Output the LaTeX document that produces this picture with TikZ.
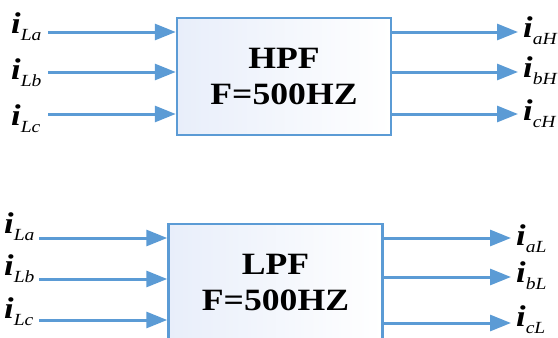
\documentclass[tikz,border=0pt]{standalone}
\usepackage{fontspec}
\setmainfont[FakeStretch=1.15]{Liberation Serif}
\usetikzlibrary{arrows.meta}
\definecolor{lineblue}{RGB}{91,155,213}
\definecolor{fillblue}{RGB}{232,238,250}
\tikzset{
  filter/.style={
    rectangle,
    draw=lineblue,
    line width=2.5pt,
    left color=fillblue, right color=white,
    minimum width=214pt, minimum height=117pt,
    inner sep=0pt,
    align=center,
    font=\fontsize{31}{36}\selectfont\bfseries
  },
  lbl/.style={
    inner sep=0pt,
    anchor=base west,
    font=\fontsize{30}{30}\selectfont
  }
}
\tikzstyle{arrow} = [-{Triangle[length=21pt, width=16pt]}, draw=lineblue, line width=3pt]
\def\cur#1{\textbf{\textit{i}}\raisebox{-7pt}{\fontsize{17}{17}\selectfont\textit{#1}}}

\begin{document}
\begin{tikzpicture}[x=1pt, y=-1pt]
    \clip (0,0) rectangle (558,338);
    \node[filter] (hpf) at (284, 76.5) {HPF\\F=500HZ};
    \node[filter] (lpf) at (275.5, 282.5) {LPF\\F=500HZ};
    % high pass: in and out
    \coordinate (hai) at (48, 32);
    \coordinate (hbi) at (48, 72);
    \coordinate (hci) at (48, 114);
    \coordinate (hao) at (518, 32);
    \coordinate (hbo) at (518, 72);
    \coordinate (hco) at (518, 114);
    \node[lbl] (hLa) at (11, 33) {\cur{La}};
    \node[lbl] (hLb) at (11, 79) {\cur{Lb}};
    \node[lbl] (hLc) at (11, 125) {\cur{Lc}};
    \node[lbl] (haH) at (523, 37) {\cur{aH}};
    \node[lbl] (hbH) at (523, 77) {\cur{bH}};
    \node[lbl] (hcH) at (523, 120) {\cur{cH}};
    \draw[arrow] (hai) -- (hai -| hpf.west);
    \draw[arrow] (hbi) -- (hbi -| hpf.west);
    \draw[arrow] (hci) -- (hci -| hpf.west);
    \draw[arrow] (hao -| hpf.east) -- (hao);
    \draw[arrow] (hbo -| hpf.east) -- (hbo);
    \draw[arrow] (hco -| hpf.east) -- (hco);
    % low pass: in and out
    \coordinate (lai) at (39, 238);
    \coordinate (lbi) at (39, 279);
    \coordinate (lci) at (39, 320);
    \coordinate (lao) at (511, 238);
    \coordinate (lbo) at (511, 277);
    \coordinate (lco) at (511, 323);
    \node[lbl] (lLa) at (4, 233) {\cur{La}};
    \node[lbl] (lLb) at (4, 275) {\cur{Lb}};
    \node[lbl] (lLc) at (4, 318) {\cur{Lc}};
    \node[lbl] (laL) at (516, 245) {\cur{aL}};
    \node[lbl] (lbL) at (516, 282) {\cur{bL}};
    \node[lbl] (lcL) at (516, 326) {\cur{cL}};
    \draw[arrow] (lai) -- (lai -| lpf.west);
    \draw[arrow] (lbi) -- (lbi -| lpf.west);
    \draw[arrow] (lci) -- (lci -| lpf.west);
    \draw[arrow] (lao -| lpf.east) -- (lao);
    \draw[arrow] (lbo -| lpf.east) -- (lbo);
    \draw[arrow] (lco -| lpf.east) -- (lco);
\end{tikzpicture}
\end{document}
